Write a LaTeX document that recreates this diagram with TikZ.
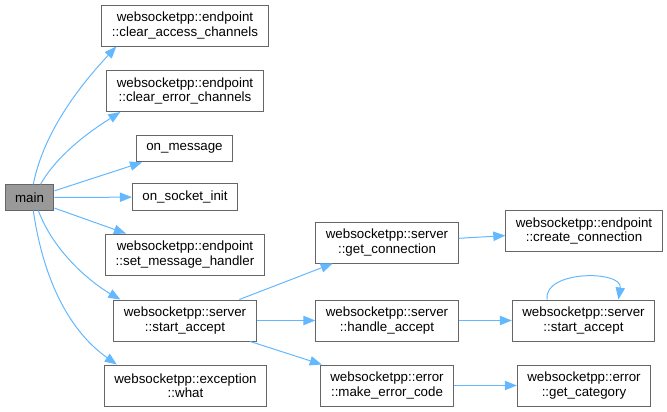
\documentclass[tikz,border=0pt]{standalone}
\usepackage{fontspec}
\setmainfont{Liberation Sans}
\usepackage{tikz}
\usetikzlibrary{arrows.meta, positioning}
\definecolor{edgeblue}{HTML}{63B8FF}
\definecolor{boxgray}{HTML}{666666}
\definecolor{mainfill}{HTML}{999999}
\tikzset{
  func/.style={rectangle, draw=boxgray, fill=white, line width=0.75pt, align=center,
               font=\fontsize{10}{10.75}\selectfont, inner xsep=7.5pt, inner ysep=2pt,
               minimum height=30.75pt},
  func1/.style={func, minimum height=20pt},
  mainfunc/.style={func1, fill=mainfill, minimum height=19pt},
  call/.style={-{Triangle[length=9pt, width=7pt]}, draw=edgeblue, line width=0.75pt}
}

\begin{document}
\begin{tikzpicture}[x=0.75pt, y=-0.75pt]
    \useasboundingbox (0,0) rectangle (667,411);

    \node[mainfunc] (main) at (29.5,197.5) {main};

    \node[func]  (access)     at (185,25.5)  {websocketpp::endpoint\\::clear\_access\_channels};
    \node[func]  (errch)      at (185,91)    {websocketpp::endpoint\\::clear\_error\_channels};
    \node[func1] (onmsg)      at (184.5,148.5) {on\_message};
    \node[func1] (oninit)     at (185,197)   {on\_socket\_init};
    \node[func]  (msghandler) at (185,254.5) {websocketpp::endpoint\\::set\_message\_handler};
    \node[func]  (accept)     at (185,320.5) {websocketpp::server\\::start\_accept};
    \node[func]  (what)       at (185.5,385.5) {websocketpp::exception\\::what};

    \node[func]  (getconn)    at (387,242.5) {websocketpp::server\\::get\_connection};
    \node[func]  (handle)     at (387,320.5) {websocketpp::server\\::handle\_accept};
    \node[func]  (mkerr)      at (387,385.5) {websocketpp::error\\::make\_error\_code};

    \node[func]  (create)     at (584,231)   {websocketpp::endpoint\\::create\_connection};
    \node[func]  (accept2)    at (583.5,320.5) {websocketpp::server\\::start\_accept};
    \node[func]  (category)   at (584,385.5) {websocketpp::error\\::get\_category};

    % calls made by main
    \draw[call] (main.74) .. controls (45,125) and (90,75) .. (access.197);
    \draw[call] (main.50) .. controls (60,150) and (100,125) .. (errch.198);
    \draw[call] (main.15) -- (onmsg);
    \draw[call] (main) -- (oninit);
    \draw[call] (main.-23) -- (msghandler);
    \draw[call] (main.-56) .. controls (55,255) and (95,285) .. (accept.162);
    \draw[call] (main.-74) .. controls (45,290) and (75,335) .. (what.163);

    % calls made by start_accept
    \draw[call] (accept) -- (getconn);
    \draw[call] (accept) -- (handle);
    \draw[call] (accept) -- (mkerr);

    \draw[call] (getconn) -- (create);
    \draw[call] (handle) -- (accept2);
    \draw[call] (mkerr) -- (category);
    \draw[call] (accept2.150) .. controls (543,270) and (623,270) .. (accept2.31);
\end{tikzpicture}
\end{document}
